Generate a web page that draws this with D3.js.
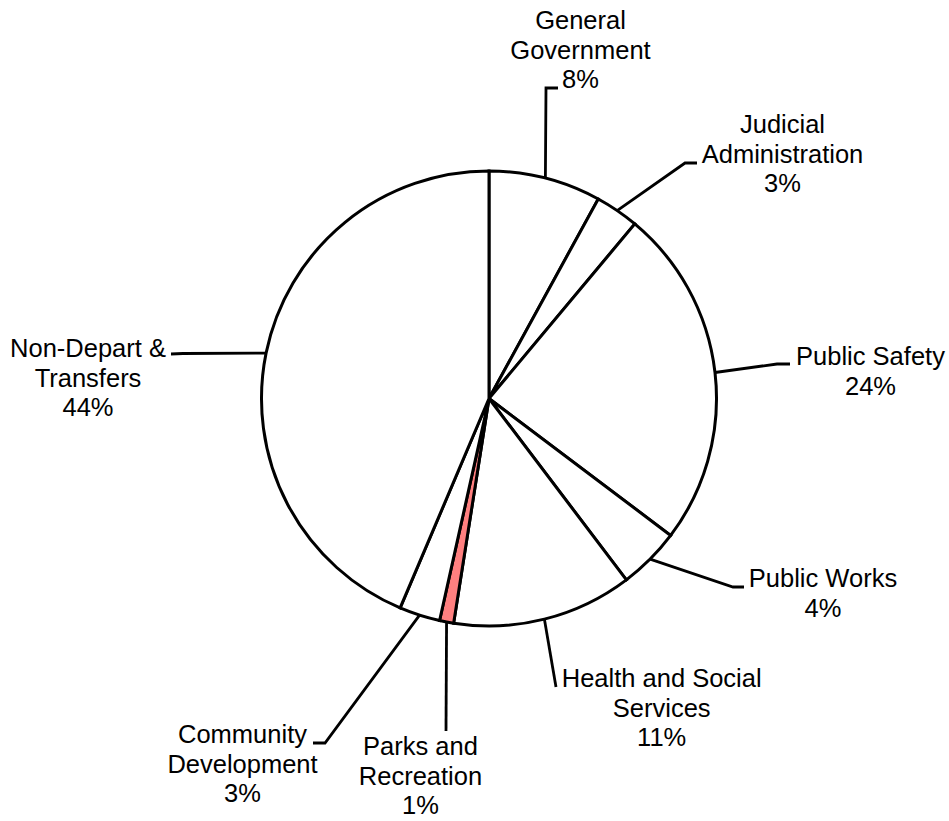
<!DOCTYPE html>
<html>
<head>
<meta charset="utf-8">
<script src="https://cdn.jsdelivr.net/npm/d3@7"></script>
<style>
  html, body { margin: 0; padding: 0; background: #ffffff; }
  svg { display: block; }
  text { font-family: "Liberation Sans", Arial, sans-serif; fill: #000; }
</style>
</head>
<body>
<svg id="chart" width="949" height="821"></svg>
<script>
// ---- data ----
const categories = ["General Government", "Judicial Administration", "Public Safety", "Public Works",
                    "Health and Social Services", "Parks and Recreation", "Community Development",
                    "Non-Depart & Transfers"];
const values = [7.97, 3.1, 24.2, 4.4, 12.8, 1.0, 2.9, 43.6];
const percentLabels = ["8%", "3%", "24%", "4%", "11%", "1%", "3%", "44%"];

// ---- layout (positions / styles) ----
const W = 949, H = 821;
const cx = 489, cy = 398.5, R = 227.5;
const fontSize = 25.5, lineH = 29.7;
const fills = ["#ffffff", "#ffffff", "#ffffff", "#ffffff", "#ffffff", "#ff8080", "#ffffff", "#ffffff"];
const labelLayout = [
  { lines: ["General", "Government"],        tx: 580.5, ty: 29,  elbow: [546, 88],  end: [558, 88] },
  { lines: ["Judicial", "Administration"],   tx: 782.5, ty: 133, elbow: [685, 163], end: [697, 163] },
  { lines: ["Public Safety"],                tx: 870.5, ty: 365, elbow: [777, 364], end: [790, 364] },
  { lines: ["Public Works"],                 tx: 823,   ty: 587, elbow: [733, 587], end: [744, 587] },
  { lines: ["Health and Social", "Services"],tx: 661.7, ty: 687, elbow: [556, 687], end: [556, 687] },
  { lines: ["Parks and", "Recreation"],      tx: 420.5, ty: 755, elbow: [446, 731], end: [446, 731] },
  { lines: ["Community", "Development"],     tx: 242.5, ty: 743, elbow: [325, 743], end: [313, 743] },
  { lines: ["Non-Depart &", "Transfers"],    tx: 88,    ty: 357, elbow: [183, 353.5], end: [171, 354] }
];

const svg = d3.select("#chart");
svg.append("rect").attr("width", W).attr("height", H).attr("fill", "#fff");

const data = categories.map((c, i) => ({ name: c, value: values[i], pct: percentLabels[i], i }));
const pie = d3.pie().sort(null).value(d => d.value).startAngle(0).endAngle(2 * Math.PI);
const arcs = pie(data);
const arc = d3.arc().innerRadius(0).outerRadius(R);
const rimArc = d3.arc().innerRadius(R).outerRadius(R);

const g = svg.append("g").attr("transform", `translate(${cx},${cy})`);
g.selectAll("path.slice")
  .data(arcs)
  .join("path")
  .attr("class", "slice")
  .attr("d", arc)
  .attr("fill", d => fills[d.data.i])
  .attr("stroke", "#000")
  .attr("stroke-width", 3)
  .attr("stroke-linejoin", "miter");

// leader lines
const line = d3.line();
svg.selectAll("path.leader")
  .data(arcs)
  .join("path")
  .attr("class", "leader")
  .attr("d", d => {
    const L = labelLayout[d.data.i];
    const c = rimArc.centroid(d);
    return line([[cx + c[0], cy + c[1]], L.elbow, L.end]);
  })
  .attr("fill", "none")
  .attr("stroke", "#000")
  .attr("stroke-width", 2.8);

// labels
const labels = svg.selectAll("text.label")
  .data(arcs)
  .join("text")
  .attr("class", "label")
  .attr("text-anchor", "middle")
  .attr("font-size", fontSize);
labels.each(function (d) {
  const L = labelLayout[d.data.i];
  const t = d3.select(this);
  const all = L.lines.concat([d.data.pct]);
  all.forEach((s, k) => {
    t.append("tspan").attr("x", L.tx).attr("y", L.ty + k * lineH).text(s);
  });
});
</script>
</body>
</html>
